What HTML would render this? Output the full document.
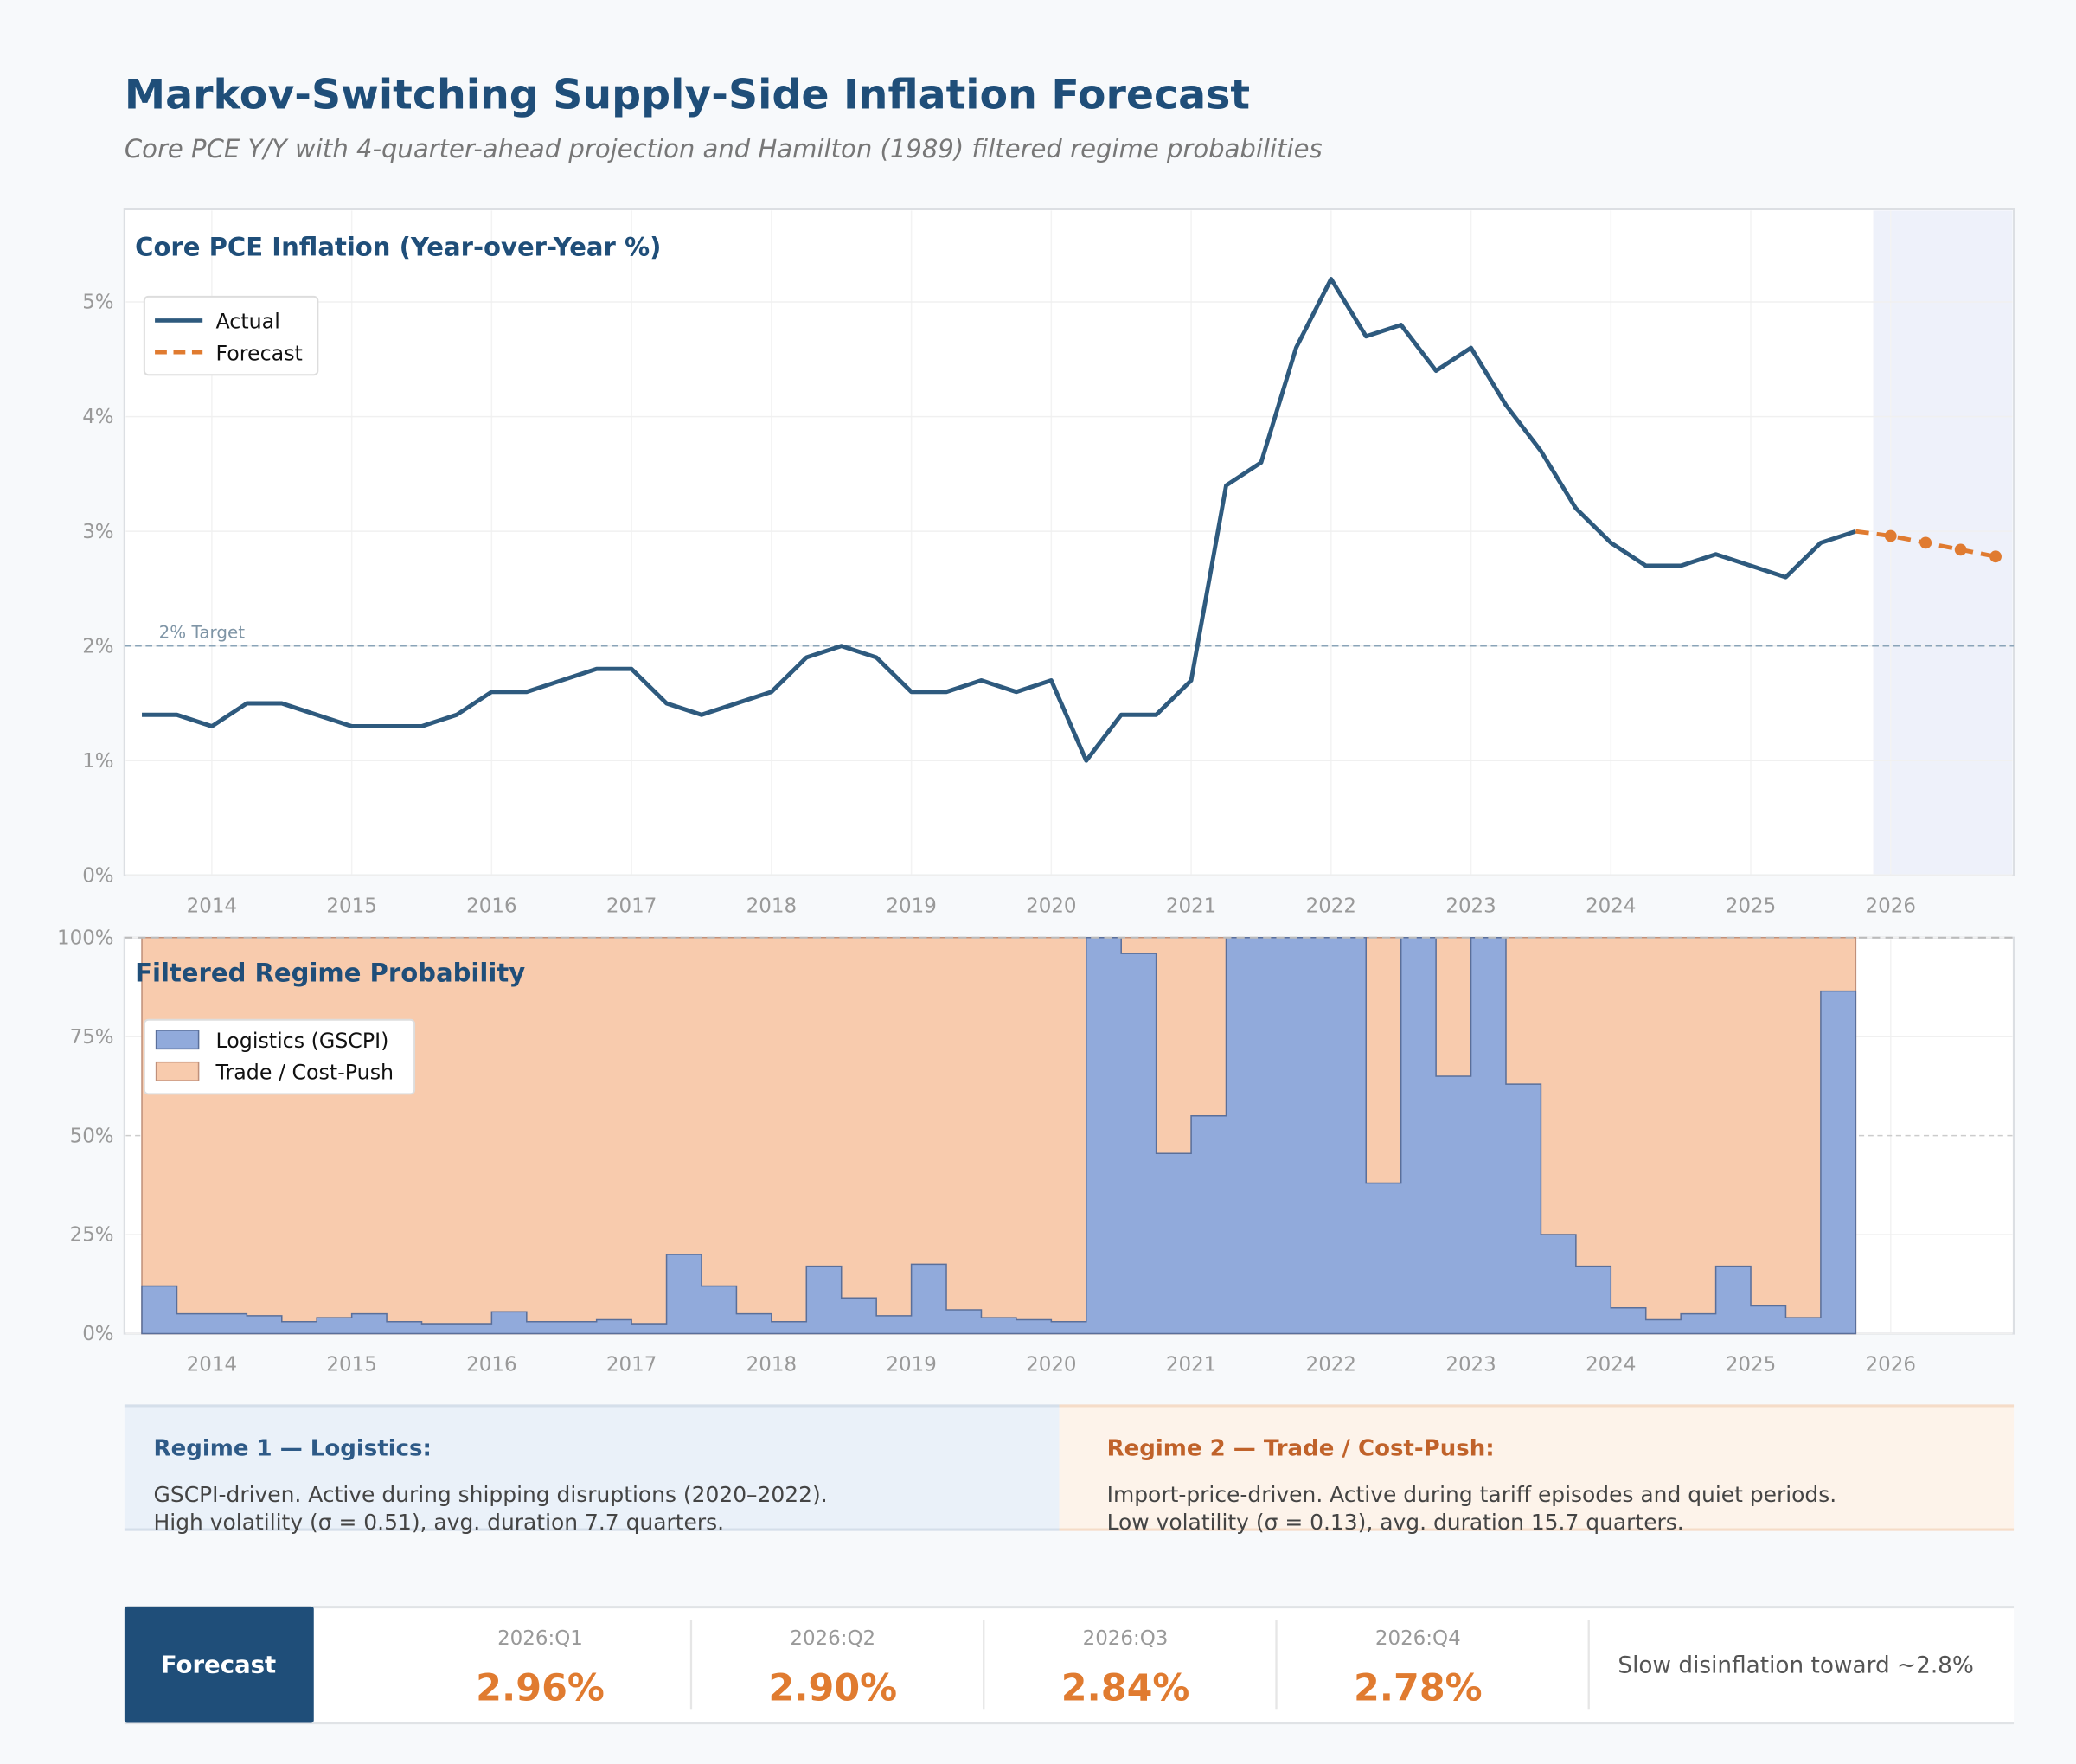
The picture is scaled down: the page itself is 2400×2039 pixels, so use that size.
<!DOCTYPE html>
<html><head><meta charset="utf-8"><style>
html,body{margin:0;padding:0;background:#f7f9fb;}
svg{display:block;font-family:"DejaVu Sans","Liberation Sans",sans-serif;}
</style></head><body>
<svg id="root" width="2400" height="2039" viewBox="0 0 1568 1332" preserveAspectRatio="none" xmlns="http://www.w3.org/2000/svg">
<rect x="0" y="0" width="1568" height="1332" fill="#f7f9fb"/>
<text x="94" y="82" font-size="31" font-weight="bold" fill="#1f4e79">Markov-Switching Supply-Side Inflation Forecast</text>
<text x="94" y="119" font-size="19" font-style="italic" fill="#777">Core PCE Y/Y with 4-quarter-ahead projection and Hamilton (1989) filtered regime probabilities</text>

<g id="top">
<rect x="94" y="158" width="1427" height="503" fill="#fff" stroke="#dcdfe3" stroke-width="1.5"/>
<rect id="fcband" y="159" height="501" fill="#eef1fa"/>
<g id="topgrid"></g>
<line id="target" x1="94" x2="1521" stroke="#8aa4b8" stroke-width="1" stroke-dasharray="5,3"/>
<text id="targetlbl" x="120" font-size="13" fill="#7f95a6">2% Target</text>
<g id="topaxes"></g>
<path id="actual" fill="none" stroke="#2e5a7e" stroke-width="3.2" stroke-linejoin="round"/>
<path id="forecast" fill="none" stroke="#e07b30" stroke-width="3.2" stroke-dasharray="10,6"/>
<g id="fcdots"></g>
<text x="102" y="193" font-size="19" font-weight="bold" fill="#1f4e79">Core PCE Inflation (Year-over-Year %)</text>
<g>
<rect x="109" y="224" width="131" height="59" rx="3" fill="#fff" stroke="#ddd" stroke-width="1.3"/>
<line x1="117" x2="153" y1="242" y2="242" stroke="#2e5a7e" stroke-width="3"/>
<text x="163" y="248" font-size="15.5" fill="#111">Actual</text>
<line x1="117" x2="153" y1="266" y2="266" stroke="#e07b30" stroke-width="3" stroke-dasharray="9,5"/>
<text x="163" y="272" font-size="15.5" fill="#111">Forecast</text>
</g>
</g>

<g id="bot">
<rect x="94" y="708" width="1427" height="299" fill="#fff" stroke="#dcdfe3" stroke-width="1.5"/>
<g id="botgrid"></g>
<path id="tradefill" fill="#f8cbad" stroke="#c0907a" stroke-width="1"/>
<path id="logfill" fill="#91aadb" stroke="#5a6f9a" stroke-width="1"/>
<line x1="94" x2="1521" y1="708" y2="708" stroke="#bbb" stroke-width="1.3" stroke-dasharray="6,4"/>
<g id="botaxes"></g>
<text x="102" y="741" font-size="19" font-weight="bold" fill="#1f4e79">Filtered Regime Probability</text>
<g>
<rect x="109" y="770" width="204" height="56" rx="3" fill="#fff" stroke="#ddd" stroke-width="1.3"/>
<rect x="118" y="778" width="32" height="14" fill="#91aadb" stroke="#5a6f9a"/>
<text x="163" y="791" font-size="15.5" fill="#111">Logistics (GSCPI)</text>
<rect x="118" y="802" width="32" height="14" fill="#f8cbad" stroke="#c0907a"/>
<text x="163" y="815" font-size="15.5" fill="#111">Trade / Cost-Push</text>
</g>
</g>

<g>
<rect x="94" y="1061" width="706" height="94" fill="#eaf1f9"/>
<line x1="94" x2="800" y1="1061.5" y2="1061.5" stroke="#d5dfea" stroke-width="2"/>
<line x1="94" x2="800" y1="1155" y2="1155" stroke="#d5dfea" stroke-width="2"/>
<text x="116" y="1099" font-size="17" font-weight="bold" fill="#2e5a87">Regime 1 — Logistics:</text>
<text x="116" y="1134" font-size="16.3" fill="#444">GSCPI-driven. Active during shipping disruptions (2020–2022).</text>
<text x="116" y="1155" font-size="16.3" fill="#444">High volatility (σ = 0.51), avg. duration 7.7 quarters.</text>
</g>
<g>
<rect x="800" y="1061" width="721" height="94" fill="#fdf3ea"/>
<line x1="800" x2="1521" y1="1061.5" y2="1061.5" stroke="#f5dcc8" stroke-width="2"/>
<line x1="800" x2="1521" y1="1155" y2="1155" stroke="#f5dcc8" stroke-width="2"/>
<text x="836" y="1099" font-size="17" font-weight="bold" fill="#c0622a">Regime 2 — Trade / Cost-Push:</text>
<text x="836" y="1134" font-size="16.3" fill="#444">Import-price-driven. Active during tariff episodes and quiet periods.</text>
<text x="836" y="1155" font-size="16.3" fill="#444">Low volatility (σ = 0.13), avg. duration 15.7 quarters.</text>
</g>

<g id="strip">
<rect x="94" y="1213" width="1427" height="88" fill="#fff"/>
<line x1="94" x2="1521" y1="1213.5" y2="1213.5" stroke="#e0e3e6" stroke-width="2"/>
<line x1="94" x2="1521" y1="1301" y2="1301" stroke="#e0e3e6" stroke-width="2"/>
<rect x="94" y="1213" width="143" height="88" rx="2" fill="#1f4e79"/>
<text x="165" y="1263" font-size="18" font-weight="bold" fill="#fff" text-anchor="middle">Forecast</text>
<text x="1222" y="1263" font-size="17.2" fill="#555">Slow disinflation toward ~2.8%</text>
</g>
</svg>
<script>
const NS="http://www.w3.org/2000/svg";
const actualDates=[2013.5,2013.75,2014,2014.25,2014.5,2014.75,2015,2015.25,2015.5,2015.75,2016,2016.25,2016.5,2016.75,2017,2017.25,2017.5,2017.75,2018,2018.25,2018.5,2018.75,2019,2019.25,2019.5,2019.75,2020,2020.25,2020.5,2020.75,2021,2021.25,2021.5,2021.75,2022,2022.25,2022.5,2022.75,2023,2023.25,2023.5,2023.75,2024,2024.25,2024.5,2024.75,2025,2025.25,2025.5,2025.75];
const actualValues=[1.4,1.4,1.3,1.5,1.5,1.4,1.3,1.3,1.3,1.4,1.6,1.6,1.7,1.8,1.8,1.5,1.4,1.5,1.6,1.9,2.0,1.9,1.6,1.6,1.7,1.6,1.7,1.0,1.4,1.4,1.7,3.4,3.6,4.6,5.2,4.7,4.8,4.4,4.6,4.1,3.7,3.2,2.9,2.7,2.7,2.8,2.7,2.6,2.9,3.0];
const forecastDates=[2026,2026.25,2026.5,2026.75];
const forecastValues=[2.96,2.90,2.84,2.78];
const forecastLabels=["2026:Q1","2026:Q2","2026:Q3","2026:Q4"];
const logisticsProb=[12,5,5,4.5,3,4,5,3,2.5,2.5,5.5,3,3,3.5,2.5,20,12,5,3,17,9,4.5,17.5,6,4,3.5,3,100,96,45.5,55,100,100,100,100,38,100,65,100,63,25,17,6.5,3.5,5,17,7,4,86.5];
const yearTicks=[2014,2015,2016,2017,2018,2019,2020,2021,2022,2023,2024,2025,2026];
const inflTicks=[0,1,2,3,4,5];
const probTicks=[0,25,50,75,100];
const targetRate=2;

const X=t=>160+(t-2014)*105.67;
const Y1=v=>661-v*86.6;
const Y2=p=>1007-p*2.99;
function mk(tag,attrs,parent){const e=document.createElementNS(NS,tag);for(const k in attrs)e.setAttribute(k,attrs[k]);parent.appendChild(e);return e;}
const topgrid=document.getElementById('topgrid'),topaxes=document.getElementById('topaxes');
const botgrid=document.getElementById('botgrid'),botaxes=document.getElementById('botaxes');

yearTicks.forEach(y=>{
  const g1=mk('line',{x1:X(y),x2:X(y),y1:159,y2:660,stroke:'#f3f3f3','stroke-width':1},topgrid);
  
  
  const t1=mk('text',{x:X(y),y:689,'font-size':15,fill:'#999','text-anchor':'middle'},topaxes);
  t1.textContent=y;
  
  
  const g2=mk('line',{x1:X(y),x2:X(y),y1:709,y2:1006,stroke:'#f3f3f3','stroke-width':1},botgrid);
  
  
  const t2=mk('text',{x:X(y),y:1035,'font-size':15,fill:'#999','text-anchor':'middle'},botaxes);
  t2.textContent=y;
  
  
});
inflTicks.forEach(v=>{
  const g=mk('line',{x1:95,x2:1520,y1:Y1(v),y2:Y1(v),stroke:'#f0f0f0','stroke-width':1},topgrid);
  
  
  const t=mk('text',{x:86,y:Y1(v)+5,'font-size':15,fill:'#999','text-anchor':'end'},topaxes);
  t.textContent=v+'%';
  
  
});
probTicks.forEach(p=>{
  const g=mk('line',{x1:95,x2:1520,y1:Y2(p),y2:Y2(p),stroke:p==50?'#ccc':'#f0f0f0','stroke-width':1,'stroke-dasharray':p==50?'4,3':'none'},botgrid);
  
  
  const t=mk('text',{x:86,y:Y2(p)+5,'font-size':15,fill:'#999','text-anchor':'end'},botaxes);
  t.textContent=p+'%';
  
  
});

const band=document.getElementById('fcband');
band.setAttribute('x',X(actualDates[actualDates.length-1]+0.125));
band.setAttribute('width',1520-X(actualDates[actualDates.length-1]+0.125));
const tl=document.getElementById('target');tl.setAttribute('y1',Y1(targetRate));tl.setAttribute('y2',Y1(targetRate));
document.getElementById('targetlbl').setAttribute('y',Y1(targetRate)-6);

document.getElementById('actual').setAttribute('d',actualDates.map((t,i)=>(i?'L':'M')+X(t)+','+Y1(actualValues[i])).join(''));
const lastT=actualDates[actualDates.length-1],lastV=actualValues[actualValues.length-1];
document.getElementById('forecast').setAttribute('d','M'+X(lastT)+','+Y1(lastV)+forecastDates.map((t,i)=>'L'+X(t)+','+Y1(forecastValues[i])).join(''));
const dots=document.getElementById('fcdots');
forecastDates.forEach((t,i)=>{
  const c=mk('circle',{cx:X(t),cy:Y1(forecastValues[i]),r:4.5,fill:'#e07b30'},dots);
  
  
});

const x0=X(actualDates[0]);
const xEnd=X(actualDates[0]+logisticsProb.length*0.25);
document.getElementById('tradefill').setAttribute('d','M'+x0+','+Y2(0)+'L'+x0+','+Y2(100)+'L'+xEnd+','+Y2(100)+'L'+xEnd+','+Y2(0)+'Z');
let d='M'+x0+','+Y2(0);
logisticsProb.forEach((p,i)=>{const a=X(actualDates[0]+i*0.25),b=X(actualDates[0]+(i+1)*0.25);d+='L'+a+','+Y2(p)+'L'+b+','+Y2(p);});
d+='L'+xEnd+','+Y2(0)+'Z';
document.getElementById('logfill').setAttribute('d',d);

const strip=document.getElementById('strip');
const cx=[408,629,850,1071];
forecastLabels.forEach((l,i)=>{
  const a=mk('text',{x:cx[i],y:1242,'font-size':15,fill:'#999','text-anchor':'middle'},strip);
  a.textContent=l;
  
  
  const b=mk('text',{x:cx[i],y:1284,'font-size':28,'font-weight':'bold',fill:'#e07b30','text-anchor':'middle'},strip);
  b.textContent=forecastValues[i].toFixed(2)+'%';
  
  
});
[522,743,964,1200].forEach(x=>{
  const s=mk('line',{x1:x,x2:x,y1:1223,y2:1291,stroke:'#e6e6e6','stroke-width':1.5},strip);
  
  
});
</script>
</body></html>
